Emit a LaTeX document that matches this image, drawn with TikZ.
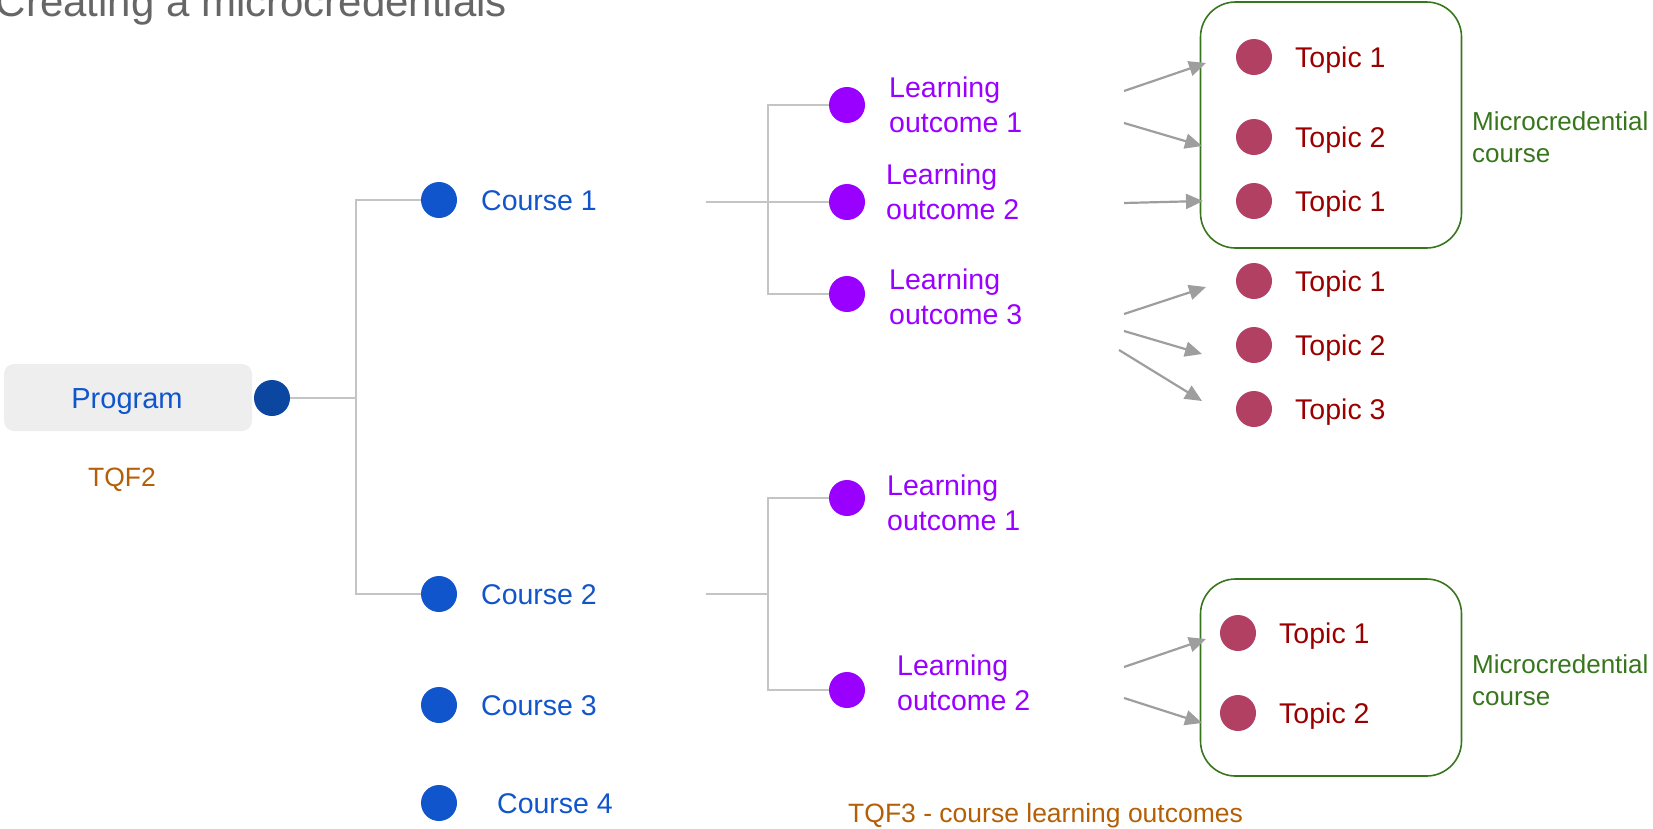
\documentclass[tikz,border=0pt]{standalone}
\usepackage{fontspec}
\setmainfont{Liberation Sans}
\usetikzlibrary{arrows.meta}
\definecolor{cblue}{HTML}{1155CC}
\definecolor{pdot}{HTML}{0B47A1}
\definecolor{lopurple}{HTML}{9900FF}
\definecolor{tdot}{HTML}{B24062}
\definecolor{tred}{HTML}{990000}
\definecolor{mgreen}{HTML}{38761D}
\definecolor{tqf}{HTML}{B45F06}
\definecolor{conn}{HTML}{C4C4C4}
\definecolor{arr}{HTML}{9E9E9E}
\definecolor{titlegray}{HTML}{666666}
\definecolor{progbg}{HTML}{EEEEEE}
\begin{document}
\begin{tikzpicture}[x=1pt,y=-1pt,
  dot/.style={circle,minimum size=36pt,inner sep=0pt},
  cdot/.style={dot,fill=cblue},
  lodot/.style={dot,fill=lopurple},
  tdotst/.style={dot,fill=tdot},
  lbl/.style={inner sep=0pt,font=\fontsize{28.5}{35}\selectfont},
  clbl/.style={lbl,text=cblue,anchor=base west},
  lolbl/.style={lbl,text=lopurple,anchor=west,align=left},
  tlbl/.style={lbl,text=tred,anchor=base west},
  mclbl/.style={inner sep=0pt,font=\fontsize{26}{32}\selectfont,text=mgreen,anchor=west,align=left},
  tqflbl/.style={inner sep=0pt,font=\fontsize{26.5}{32}\selectfont,text=tqf},
  mcbox/.style={draw=mgreen,line width=1.6pt,rounded corners=35pt,minimum width=261pt,inner sep=0pt},
  connector/.style={draw=conn,line width=2pt},
  arrowline/.style={draw=arr,line width=2.2pt,-{Triangle[length=17pt,width=15pt]}}
]
\useasboundingbox (0,0) rectangle (1653,828);
\clip (0,0) rectangle (1653,828);

% title
\node[inner sep=0pt,anchor=base west,font=\fontsize{42}{48}\selectfont,text=titlegray] (title) at (-4.5,16) {Creating a microcredentials};

% program
\node[fill=progbg,rounded corners=10pt,minimum width=248pt,minimum height=67pt,inner sep=0pt] (prog) at (128,397.5) {};
\node[inner sep=0pt,text=cblue,font=\fontsize{29}{35}\selectfont,anchor=base] (progl) at (127,408) {Program};
\node[dot,fill=pdot] (pd) at (272,398) {};
\node[tqflbl,anchor=base] (tqf2) at (122,486) {TQF2};

% courses
\node[cdot] (c1) at (439,200) {};
\node[cdot] (c2) at (439,594) {};
\node[cdot] (c3) at (439,705) {};
\node[cdot] (c4) at (439,803) {};
\node[clbl] (c1l) at (481,210) {Course 1};
\node[clbl] (c2l) at (481,604) {Course 2};
\node[clbl] (c3l) at (481,715) {Course 3};
\node[clbl] (c4l) at (497,813) {Course 4};

\coordinate (j1) at (356,398);
\draw[connector] (pd.east) -- (j1);
\draw[connector] (c1.west) -| (j1) |- (c2.west);

% learning outcomes of course 1
\node[lodot] (lo11) at (847,105) {};
\node[lodot] (lo12) at (847,202) {};
\node[lodot] (lo13) at (847,294) {};
\node[lolbl] (lo11l) at (889,104.5) {Learning\\outcome 1};
\node[lolbl] (lo12l) at (886,191.5) {Learning\\outcome 2};
\node[lolbl] (lo13l) at (889,296.5) {Learning\\outcome 3};
\coordinate (k1) at (706,202);
\coordinate (j2) at (768,202);
\draw[connector] (k1) -- (lo12.west);
\draw[connector] (lo11.west) -| (j2) |- (lo13.west);

% learning outcomes of course 2
\node[lodot] (lo21) at (847,498) {};
\node[lodot] (lo22) at (847,690) {};
\node[lolbl] (lo21l) at (887,502.5) {Learning\\outcome 1};
\node[lolbl] (lo22l) at (897,682.5) {Learning\\outcome 2};
\coordinate (k2) at (706,594);
\coordinate (j3) at (768,594);
\draw[connector] (k2) -- (j3);
\draw[connector] (lo21.west) -| (j3) |- (lo22.west);

\node[tqflbl,anchor=base west] (tqf3) at (848,822) {TQF3 - course learning outcomes};

% microcredential boxes
\node[mcbox,minimum height=246pt] (mc1) at (1331,125) {};
\node[mcbox,minimum height=197pt] (mc2) at (1331,677.5) {};
\node[mclbl] (mc1l) at (1472,137) {Microcredential\\course};
\node[mclbl] (mc2l) at (1472,680) {Microcredential\\course};

% topics
\node[tdotst] (t1) at (1254,57) {};
\node[tdotst] (t2) at (1254,137) {};
\node[tdotst] (t3) at (1254,201) {};
\node[tdotst] (t4) at (1254,281) {};
\node[tdotst] (t5) at (1254,345) {};
\node[tdotst] (t6) at (1254,409) {};
\node[tlbl] (t1l) at (1295,67) {Topic 1};
\node[tlbl] (t2l) at (1295,147) {Topic 2};
\node[tlbl] (t3l) at (1295,211) {Topic 1};
\node[tlbl] (t4l) at (1295,291) {Topic 1};
\node[tlbl] (t5l) at (1295,355) {Topic 2};
\node[tlbl] (t6l) at (1295,419) {Topic 3};

\node[tdotst] (u1) at (1238,633) {};
\node[tdotst] (u2) at (1238,713) {};
\node[tlbl] (u1l) at (1279,643) {Topic 1};
\node[tlbl] (u2l) at (1279,723) {Topic 2};

% arrows
\coordinate (a1s) at (1124,91);   \coordinate (a1e) at (1206,63);
\coordinate (a2s) at (1124,123);  \coordinate (a2e) at (1202,146);
\coordinate (a3s) at (1124,203);  \coordinate (a3e) at (1203,201);
\coordinate (a4s) at (1124,314);  \coordinate (a4e) at (1206,287);
\coordinate (a5s) at (1124,331);  \coordinate (a5e) at (1202,354);
\coordinate (a6s) at (1119,350);  \coordinate (a6e) at (1202,401);
\coordinate (a7s) at (1124,667);  \coordinate (a7e) at (1206,639);
\coordinate (a8s) at (1124,698);  \coordinate (a8e) at (1202,723);
\draw[arrowline] (a1s) -- (a1e);
\draw[arrowline] (a2s) -- (a2e);
\draw[arrowline] (a3s) -- (a3e);
\draw[arrowline] (a4s) -- (a4e);
\draw[arrowline] (a5s) -- (a5e);
\draw[arrowline] (a6s) -- (a6e);
\draw[arrowline] (a7s) -- (a7e);
\draw[arrowline] (a8s) -- (a8e);
\end{tikzpicture}
\end{document}
